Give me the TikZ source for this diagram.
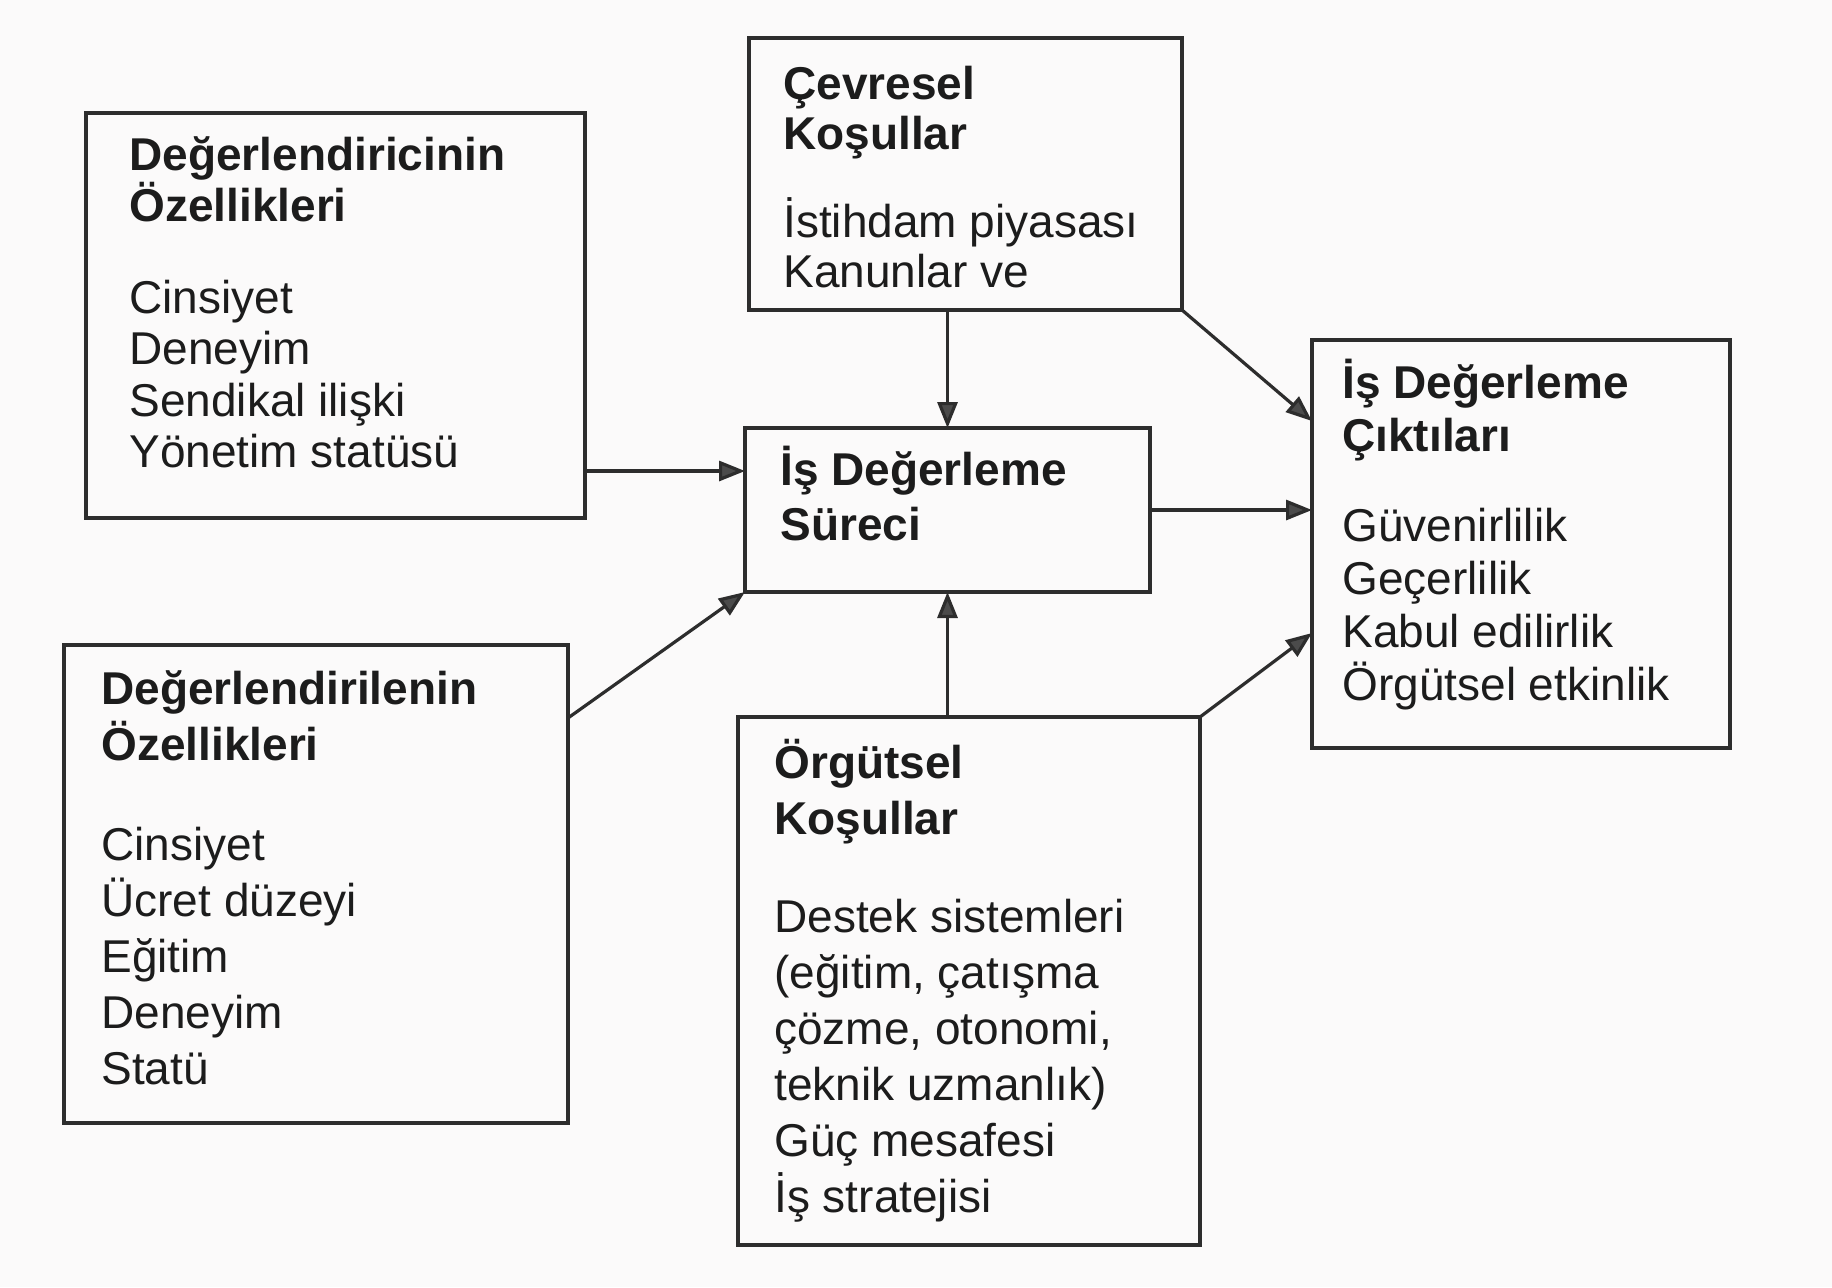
\documentclass[tikz,border=0pt]{standalone}
\usepackage{fontspec}
\setmainfont{Liberation Sans}
\usetikzlibrary{arrows.meta, positioning, calc}
\definecolor{inkdark}{RGB}{28, 28, 28}
\definecolor{inkline}{RGB}{45, 45, 45}
\definecolor{tipgray}{RGB}{75, 75, 75}
\definecolor{paper}{RGB}{251, 250, 250}
\newcommand{\txtsize}[1]{\fontsize{23}{#1}\selectfont}

\begin{document}
\begin{tikzpicture}[
    x=0.5pt, y=-0.5pt,
    flow/.style={-{Triangle[length=13pt, width=10pt, fill=tipgray]}, line width=1.6pt, draw=inkline},
    framebox/.style={rectangle, draw=inkline, line width=2pt, inner sep=0pt, outer sep=0pt},
    boxtext/.style={anchor=north west, inner sep=0pt, align=left, text=inkdark}
]

% === Page ===
\path[use as bounding box, fill=paper] (0,0) rectangle (1832,1287);

% === Frames ===
\node[framebox, minimum width=249.5pt, minimum height=202.5pt] (rater) at (335.5, 315.5) {};
\node[framebox, minimum width=252pt, minimum height=239pt] (ratee) at (316, 884) {};
\node[framebox, minimum width=216.5pt, minimum height=136pt] (envcond) at (965.5, 174) {};
\node[framebox, minimum width=202.5pt, minimum height=82pt] (process) at (947.5, 510) {};
\node[framebox, minimum width=209pt, minimum height=204pt] (outcome) at (1521, 544) {};
\node[framebox, minimum width=231pt, minimum height=264pt] (orgcond) at (969, 981) {};

% === Texts ===
\node[boxtext, font=\txtsize{25.75}] (ratertext) at ($(rater.north west)+(43,23)$)
    {\textbf{Değerlendiricinin}\\ \textbf{Özellikleri}\\[20pt]
     Cinsiyet\\ Deneyim\\ Sendikal ilişki\\ Yönetim statüsü};
\node[boxtext, font=\txtsize{28}] (rateetext) at ($(ratee.north west)+(37,25)$)
    {\textbf{Değerlendirilenin}\\ \textbf{Özellikleri}\\[22pt]
     Cinsiyet\\ Ücret düzeyi\\ Eğitim\\ Deneyim\\ Statü};
\node[boxtext, font=\txtsize{25}] (envtext) at ($(envcond.north west)+(34,28)$)
    {\textbf{Çevresel}\\ \textbf{Koşullar}\\[19pt]
     İstihdam piyasası\\ Kanunlar ve};
\node[boxtext, font=\txtsize{27.5}] (proctext) at ($(process.north west)+(35,18)$)
    {\textbf{İş Değerleme}\\ \textbf{Süreci}};
\node[boxtext, font=\txtsize{26.5}] (outtext) at ($(outcome.north west)+(30,19)$)
    {\textbf{İş Değerleme}\\ \textbf{Çıktıları}\\[18.5pt]
     Güvenirlilik\\ Geçerlilik\\ Kabul edilirlik\\ Örgütsel etkinlik};
\node[boxtext, font=\txtsize{28}] (orgtext) at ($(orgcond.north west)+(36,22)$)
    {\textbf{Örgütsel}\\ \textbf{Koşullar}\\[21pt]
     Destek sistemleri\\ (eğitim, çatışma\\ çözme, otonomi,\\ teknik uzmanlık)\\
     Güç mesafesi\\ İş stratejisi};

% === Arrows into the process ===
\coordinate (raterin) at ($(process.west)+(0,-39)$);
\draw[flow] (rater.east |- raterin) -- (raterin);
\coordinate (rateeout) at ($(ratee.north east)+(0,73)$);
\draw[flow] (rateeout) -- (process.south west);
\draw[flow] (envcond.south -| process.north) -- (process.north);
\draw[flow] (orgcond.north -| process.south) -- (process.south);

% === Arrows into the outcomes ===
\draw[flow] (process.east) -- (process.east -| outcome.west);
\coordinate (envin) at ($(outcome.north west)+(0,81)$);
\draw[flow] (envcond.south east) -- (envin);
\coordinate (orgin) at ($(outcome.south west)+(0,-115)$);
\draw[flow] (orgcond.north east) -- (orgin);

\end{tikzpicture}
\end{document}
